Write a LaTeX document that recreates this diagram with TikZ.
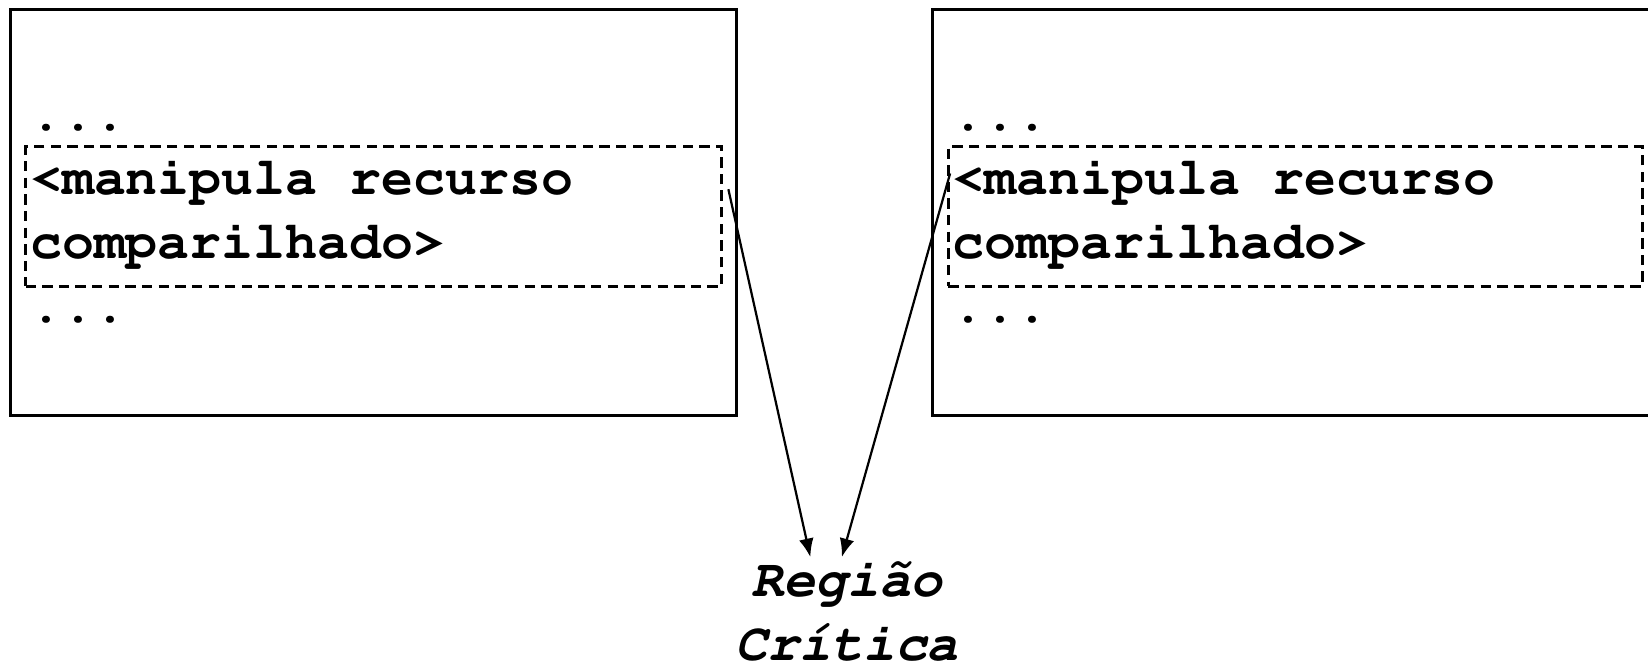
\documentclass[tikz,border=0pt]{standalone}
\usepackage[T1]{fontenc}
\renewcommand{\ttdefault}{pcr}
\usetikzlibrary{calc}
\usetikzlibrary{arrows.meta}

\begin{document}
\begin{tikzpicture}[x=0.01cm, y=0.01cm]
            \tikzstyle{process} = [draw, line width=0.7pt, rectangle, inner sep=0pt, anchor=north west]
            \tikzstyle{section} = [draw, line width=0.75pt, dash pattern=on 2.8pt off 1.7pt, rectangle, inner sep=0pt, anchor=north west]
            \tikzstyle{code} = [inner sep=0pt, anchor=base west, font=\fontsize{14.4}{17}\selectfont\ttfamily\bfseries]
            \tikzstyle{label} = [inner sep=0pt, anchor=base, font=\fontsize{14.4}{17}\selectfont\ttfamily\bfseries\slshape]
            \tikzstyle{flow} = [line width=0.6pt, -{Latex[length=5pt, width=4pt]}]
            \clip (0, 0) rectangle (1568, -635);
            \node[process, minimum width=6.9cm, minimum height=3.86cm] (procA) at (9, -8) {};
            \node[process, minimum width=6.95cm, minimum height=3.86cm] (procB) at (886, -8) {};
            \node[section, minimum width=6.62cm, minimum height=1.33cm] (secA) at (23, -138) {};
            \node[section, minimum width=6.6cm, minimum height=1.33cm] (secB) at (901, -138) {};
            \node[code] (dotsA1) at (28, -124) {...};
            \node[code] (lineA1) at (28, -185) {<manipula recurso};
            \node[code] (lineA2) at (28, -246) {comparilhado>};
            \node[code] (dotsA2) at (28, -307) {...};
            \node[code] (dotsB1) at (906, -124) {...};
            \node[code] (lineB1) at (906, -185) {<manipula recurso};
            \node[code] (lineB2) at (906, -246) {comparilhado>};
            \node[code] (dotsB2) at (906, -307) {...};
            \node[label] (regiao) at (806, -568) {Região};
            \node[label] (critica) at (806, -628) {Crítica};
            \coordinate (fromA) at (693, -180);
            \coordinate (fromB) at (904, -165);
            \draw[flow] (fromA) -- ($(regiao.base) + (-35, 38)$);
            \draw[flow] (fromB) -- ($(regiao.base) + (-5, 38)$);
        \end{tikzpicture}
\end{document}
